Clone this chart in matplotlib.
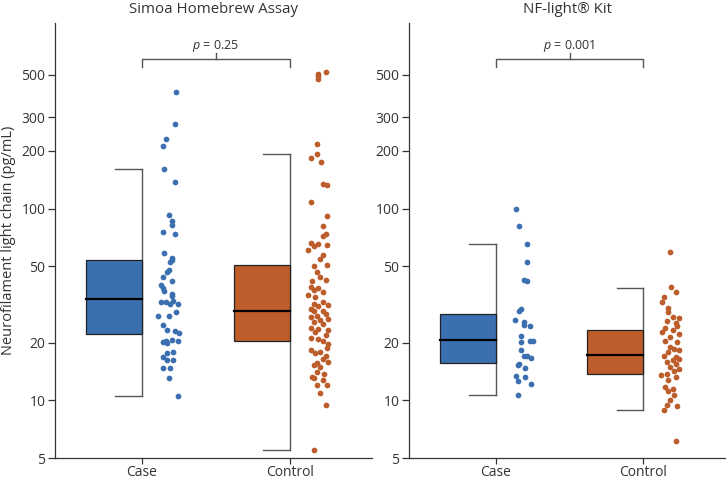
import numpy as np
import matplotlib
matplotlib.use('Agg')
import matplotlib.pyplot as plt

# global plot settings
plt.rcParams['font.family'] = ['Open Sans', 'DejaVu Sans']
plt.rcParams['mathtext.fontset'] = 'custom'
plt.rcParams['mathtext.rm'] = 'Open Sans'
plt.rcParams['mathtext.it'] = 'Open Sans:italic'
font_size = 10
axis_col = '#333333'
whisk_col = '#555555'
blue = '#3b6fb0'
orange = '#bc5d2b'

groups = ['Case', 'Control']
titles = ['Simoa Homebrew Assay', 'NF-light® Kit']
p_labels = ['$p$ = 0.25', '$p$ = 0.001']
yticks = [5, 10, 20, 50, 100, 200, 300, 500]

# ---------------------------------------------------------------- data
# Simoa homebrew, case
simoa_case = [407, 278, 231, 213, 162, 137, 93, 86, 82, 76,
              74, 58.5, 55, 54, 53, 48, 47, 44, 42, 40,
              38.5, 37, 36, 35, 33, 32.5, 32, 32.5, 31.9, 28.8,
              27.7, 27.5, 24.6, 23.2, 23, 22.4, 20.7, 20.5, 20.1, 20.3,
              19.9, 17.9, 17.6, 16.8, 16.2, 16.3, 14.7, 14.7, 13.0, 10.5]
simoa_case_jit = [0.23, 0.22, 0.16, 0.14, 0.15, 0.22, 0.18, 0.20, 0.20, 0.14,
                  0.22, 0.15, 0.20, 0.20, 0.19, 0.18, 0.17, 0.14, 0.20, 0.13,
                  0.14, 0.15, 0.20, 0.20, 0.21, 0.13, 0.24, 0.16, 0.19, 0.23,
                  0.18, 0.11, 0.14, 0.17, 0.22, 0.25, 0.20, 0.16, 0.14, 0.24,
                  0.17, 0.21, 0.17, 0.14, 0.21, 0.17, 0.14, 0.19, 0.18, 0.24]

# Simoa homebrew, control
simoa_ctrl = [517, 507, 493, 477, 217, 192, 183, 176, 135, 133,
              108, 92, 81, 74, 72, 66, 65.5, 65, 64, 61,
              57, 54.7, 51, 50.5, 47, 43.9, 42.5, 41.8, 38.9, 38.5,
              37.7, 36.6, 35.6, 34.5, 32.5, 31.9, 31.5, 30.9, 30.0, 29.4,
              29.1, 28.3, 27.7, 27.2, 26.6, 26.3, 25.6, 24.9, 23.9, 23.6,
              23.3, 22.7, 21.8, 21.2, 20.9, 20.5, 19.7, 18.8, 18.2, 17.9,
              17.6, 17.1, 16.5, 15.8, 15.6, 15.2, 14.9, 14.0, 13.7, 13.3,
              13.1, 12.7, 12.0, 12.0, 10.9, 9.4, 5.5]
simoa_ctrl_jit = [0.24, 0.19, 0.19, 0.19, 0.18, 0.18, 0.14, 0.21, 0.22, 0.25,
                  0.14, 0.25, 0.22, 0.24, 0.22, 0.14, 0.19, 0.25, 0.16, 0.12,
                  0.22, 0.20, 0.25, 0.16, 0.18, 0.20, 0.24, 0.15, 0.14, 0.19,
                  0.16, 0.22, 0.12, 0.17, 0.22, 0.16, 0.26, 0.19, 0.14, 0.22,
                  0.16, 0.24, 0.18, 0.14, 0.26, 0.20, 0.16, 0.22, 0.14, 0.19,
                  0.26, 0.17, 0.24, 0.14, 0.19, 0.22, 0.26, 0.25, 0.14, 0.20,
                  0.17, 0.24, 0.22, 0.26, 0.18, 0.16, 0.20, 0.18, 0.23, 0.15,
                  0.16, 0.22, 0.18, 0.25, 0.20, 0.24, 0.16]

# NF-light kit, case
nfl_case = [99.6, 81.5, 65.5, 53, 42.2, 41.8, 29.8, 29.1, 26.3, 25.6,
            24.6, 24.5, 21.6, 20.5, 20.3, 20.1, 18.2, 17.1, 17.0, 16.7,
            15.5, 15.2, 14.8, 13.4, 13.2, 12.6, 12.2, 10.7]
nfl_case_jit = [0.14, 0.16, 0.21, 0.21, 0.19, 0.21, 0.17, 0.16, 0.13, 0.19,
                0.19, 0.23, 0.17, 0.23, 0.25, 0.17, 0.17, 0.19, 0.21, 0.24,
                0.16, 0.15, 0.20, 0.14, 0.20, 0.15, 0.24, 0.15]

# NF-light kit, control
nfl_ctrl = [59.7, 38.9, 36.6, 34.5, 32.5, 30.3, 28.8, 27.3, 27.0, 25.8,
            25.3, 24.3, 23.8, 23.2, 22.7, 22.2, 21.4, 20.5, 20.1, 19.0,
            18.6, 18.2, 17.9, 17.1, 16.9, 16.5, 16.2, 15.8, 15.4, 15.0,
            14.6, 14.3, 13.8, 13.5, 13.3, 12.7, 11.7, 11.5, 11.2, 10.7,
            10.1, 9.4, 9.3, 8.9, 6.1]
nfl_ctrl_jit = [0.18, 0.19, 0.22, 0.14, 0.13, 0.17, 0.17, 0.20, 0.24, 0.16,
                0.22, 0.23, 0.15, 0.20, 0.13, 0.24, 0.18, 0.15, 0.23, 0.18,
                0.21, 0.24, 0.17, 0.14, 0.22, 0.24, 0.20, 0.16, 0.22, 0.18,
                0.24, 0.21, 0.16, 0.12, 0.22, 0.17, 0.15, 0.20, 0.17, 0.21,
                0.18, 0.16, 0.23, 0.14, 0.22]

# box stats: whisker low, q1, median, q3, whisker high
simoa_box = [[10.5, 22.1, 33.7, 53.8, 161], [5.5, 20.5, 29.1, 50.7, 192]]
nfl_box = [[10.7, 15.7, 20.7, 28.2, 65.5], [8.9, 13.7, 17.2, 23.2, 38.5]]

panels = [
    (simoa_box, [(simoa_case, simoa_case_jit), (simoa_ctrl, simoa_ctrl_jit)]),
    (nfl_box, [(nfl_case, nfl_case_jit), (nfl_ctrl, nfl_ctrl_jit)]),
]

# ---------------------------------------------------------------- graphic
fig = plt.figure(figsize=(7.26, 4.79), dpi=100)
ax_pos = [[0.0758, 0.0438, 0.4366, 0.908], [0.5634, 0.0438, 0.4353, 0.908]]
cols = [blue, orange]
box_w = 0.38
cap_w = 0.18

for k in range(2):
    ax = fig.add_axes(ax_pos[k])
    boxes, pts = panels[k]
    ax.set_yscale('log')
    ax.set_ylim(5, 930)
    ax.set_xlim(-0.588, 1.554)

    for i in range(2):
        lo, q1, med, q3, hi = boxes[i]
        # whisker bracket on right side of box
        ax.plot([i, i], [lo, hi], color=whisk_col, lw=1.0, zorder=1)
        ax.plot([i - cap_w, i], [lo, lo], color=whisk_col, lw=1.0, zorder=1)
        ax.plot([i - cap_w, i], [hi, hi], color=whisk_col, lw=1.0, zorder=1)
        ax.bar(i - box_w, q3 - q1, bottom=q1, width=box_w, align='edge',
               color=cols[i], edgecolor='#222222', lw=0.9, zorder=2)
        ax.plot([i - box_w, i], [med, med], color='k', lw=1.6, zorder=3)

        vals, jit = pts[i]
        ax.scatter(i + np.array(jit), vals, s=17, color=cols[i], lw=0, zorder=4)

    # p-value bracket
    yb = 604
    ax.plot([0, 0, 1, 1], [552, yb, yb, 552], color=whisk_col, lw=1.0, clip_on=False)
    ax.plot([0.5, 0.5], [yb, 649], color=whisk_col, lw=1.0, clip_on=False)
    ax.text(0.5, 684, p_labels[k], ha='center', va='baseline', fontsize=9, color=axis_col)

    ax.set_title(titles[k], fontsize=10.8, color=axis_col, pad=7)

    ax.set_yticks(yticks)
    ax.set_yticklabels([str(t) for t in yticks])
    ax.yaxis.set_minor_locator(matplotlib.ticker.NullLocator())
    ax.set_xticks([0, 1])
    ax.set_xticklabels(groups)
    ax.tick_params(axis='y', direction='out', length=5, width=0.9,
                   colors=axis_col, labelsize=font_size, pad=2)
    ax.tick_params(axis='x', direction='out', length=4, width=0.9,
                   colors=axis_col, labelsize=font_size, pad=1)
    for s in ['top', 'right']:
        ax.spines[s].set_visible(False)
    for s in ['left', 'bottom']:
        ax.spines[s].set_color(axis_col)
        ax.spines[s].set_linewidth(0.9)
    if k == 0:
        ax.set_ylabel('Neurofilament light chain (pg/mL)', fontsize=10.5, color=axis_col, labelpad=4)

plt.savefig('out.png', dpi=100)
